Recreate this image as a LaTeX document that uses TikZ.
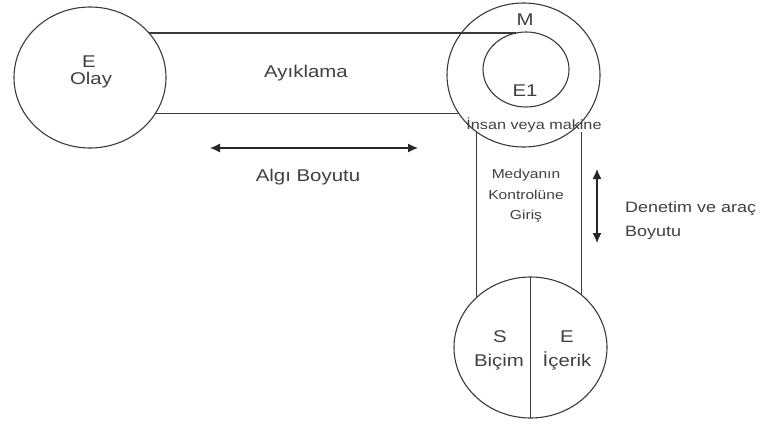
\documentclass[tikz,border=0pt]{standalone}
\usepackage{fontspec}
\setmainfont[FakeStretch=1.2]{Liberation Sans}
\usetikzlibrary{shapes.geometric,arrows.meta}
\definecolor{ink}{HTML}{3A3A3A}
\definecolor{txt}{HTML}{404040}
\begin{document}
\begin{tikzpicture}[x=1pt,y=-1pt,
  ring/.style={draw=ink, line width=1.1pt, ellipse, inner sep=0pt, outer sep=0pt},
  lbl/.style={text=txt, inner sep=0pt, anchor=base, font=\fontsize{17}{20}\selectfont},
  mid/.style={text=txt, inner sep=0pt, anchor=base, font=\fontsize{15}{18}\selectfont},
  small/.style={text=txt, inner sep=0pt, anchor=base, font=\fontsize{13}{16}\selectfont},
  wire/.style={draw=ink, line width=1.1pt},
  dim/.style={draw=black!85, line width=1.2pt, {Latex[length=10pt,width=9pt]}-{Latex[length=10pt,width=9pt]}}]

\useasboundingbox (0,0) rectangle (768,423);

% event, medium (with source inside) and message circles
\node[ring, minimum width=152pt, minimum height=141pt] (ev)  at (90,77.5)    {};
\node[ring, minimum width=153pt, minimum height=144pt] (med) at (523.5,75)   {};
\node[ring, minimum width=86pt,  minimum height=75pt]  (src) at (526,69.5)   {};
\node[ring, minimum width=153pt, minimum height=141pt] (msg) at (530.5,347.5) {};

% labels
\node[lbl] (evE)  at (89,67)  {E};
\node[lbl] (evO)  at (91,84)  {Olay};
\node[lbl] (sel)  at (306,77) {Ayıklama};
\node[lbl] (perc) at (308,181) {Algı Boyutu};
\node[lbl] (medM) at (525,25) {M};
\node[lbl] (srcE) at (525,96) {E1};
\node[small, font=\fontsize{13.5}{16}\selectfont] (agent) at (534,129) {İnsan veya makine};
\node[small] (ctl1) at (526,178) {Medyanın};
\node[small] (ctl2) at (526,199) {Kontrolüne};
\node[small] (ctl3) at (526,219) {Giriş};
\node[mid, anchor=base west] (dn1) at (625,212) {Denetim ve araç};
\node[mid, anchor=base west] (dn2) at (625,236) {Boyutu};
\node[lbl] (msgS) at (500,342) {S};
\node[lbl] (msgF) at (499,366) {Biçim};
\node[lbl] (msgE) at (567,342) {E};
\node[lbl] (msgC) at (567,366) {İçerik};

% channel from event to medium
\draw[wire] (ev.37) -- (ev.37 -| src.105);
\draw[wire] (ev.-29.3) -- (ev.-29.3 -| med.211);

% channel from medium to message
\draw[wire] (med.230.9) -- (med.230.9 |- msg.136.7);
\draw[wire] (msg.46.4) -- (msg.46.4 |- agent.south);

% split of the message circle
\draw[wire] (msg.north) -- (msg.south);

% dimension arrows
\coordinate (h1) at (210,148);
\coordinate (h2) at (418,148);
\draw[dim] (h1) -- (h2);
\coordinate (v1) at (597,169);
\coordinate (v2) at (597,243);
\draw[dim] (v1) -- (v2);
\end{tikzpicture}
\end{document}
